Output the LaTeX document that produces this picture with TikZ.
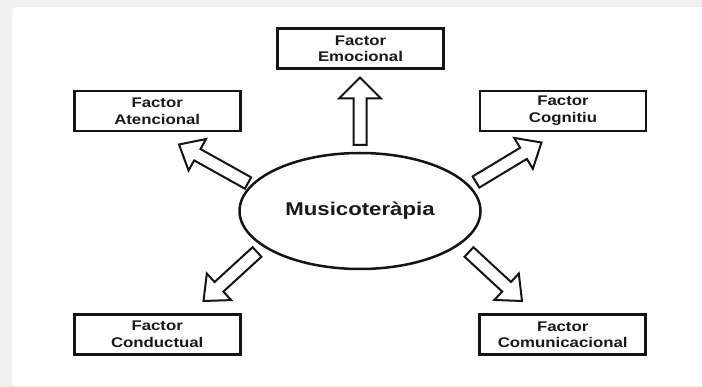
\documentclass[tikz,border=0pt]{standalone}
\usepackage{fontspec}
\newfontfamily\diagfont{Liberation Sans}[FakeStretch=1.2]
\usetikzlibrary{calc,shapes.geometric}
\newcommand\blockarrow[3]{%
  \coordinate (ba) at ($(#2)!21pt!(#1)$);
  \draw[barrow] ($(#1)!6.5pt!90:(#2)$) -- ($(ba)!6.5pt!90:(#2)$) -- ($(ba)!#3!90:(#2)$) -- (#2)
    -- ($(ba)!#3!-90:(#2)$) -- ($(ba)!6.5pt!-90:(#2)$) -- ($(#1)!6.5pt!-90:(#2)$) -- cycle;}
\begin{document}
\begin{tikzpicture}[x=1pt,y=-1pt,
  box/.style={draw=black!92, line width=2.8pt, minimum width=166pt, minimum height=40pt, inner sep=0pt,
    align=center, text=black!90, font=\diagfont\bfseries\fontsize{14}{16.7}\selectfont},
  hub/.style={ellipse, draw=black!92, line width=2.5pt, minimum width=241pt, minimum height=116pt, inner sep=0pt,
    text=black!90, font=\diagfont\bfseries\fontsize{18.5}{22}\selectfont},
  barrow/.style={draw=black!92, line width=2pt, fill=white, line join=miter}]
\useasboundingbox (0,0) rectangle (702,387);
\fill[black!6] (0,0) rectangle (702,387);
\fill[white, rounded corners=4pt] (12,7) rectangle (712,386);

\node[hub] (hub) at (360,211) {Musicoteràpia};
\node[box] (emo) at (360.5,48.7) {Factor\\Emocional};
\node[box] (ate) at (157.2,111) {Factor\\Atencional};
\node[box] (cog) at (563,111) {Factor\\Cognitiu};
\node[box] (con) at (157.2,334.5) {Factor\\Conductual};
\node[box] (com) at (562.7,334.7) {Factor\\Comunicacional};

\coordinate (t1) at (360,145); \coordinate (p1) at (360,77.5);
\coordinate (t2) at (248,183); \coordinate (p2) at (179,144.5);
\coordinate (t3) at (476,182); \coordinate (p3) at (541.5,142.5);
\coordinate (t4) at (257,252); \coordinate (p4) at (203.5,301);
\coordinate (t5) at (469,252); \coordinate (p5) at (522,301);

\blockarrow{t1}{p1}{21pt}
\blockarrow{t2}{p2}{18pt}
\blockarrow{t3}{p3}{18pt}
\blockarrow{t4}{p4}{18pt}
\blockarrow{t5}{p5}{18pt}
\end{tikzpicture}
\end{document}
